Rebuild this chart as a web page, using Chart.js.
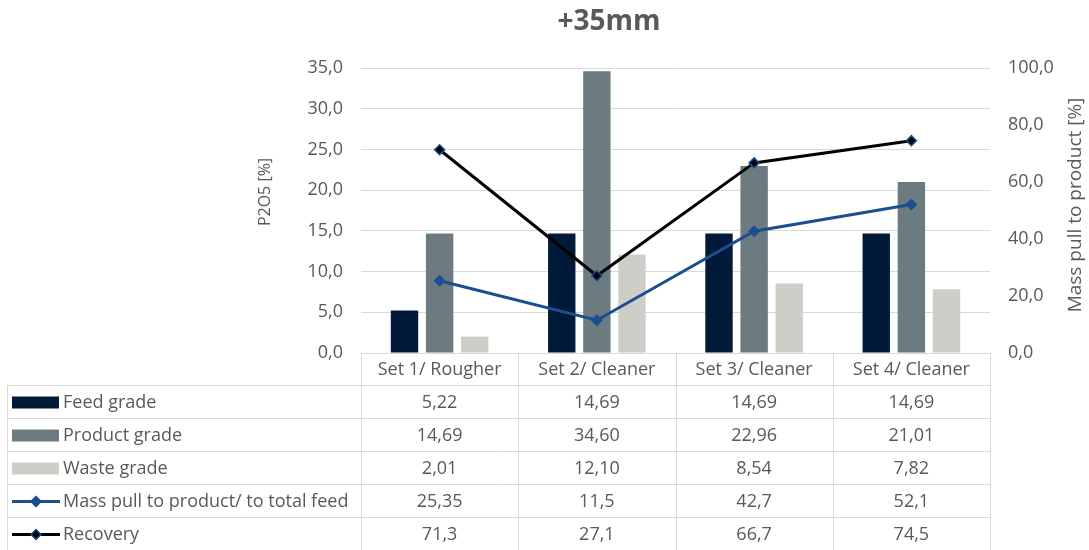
<!DOCTYPE html>
<html>
<head>
<meta charset="utf-8">
<script src="https://cdn.jsdelivr.net/npm/chart.js@4"></script>
<style>
  html, body { margin: 0; padding: 0; background: #fff; }
  #wrap { width: 1089px; height: 550px; }
</style>
</head>
<body>
<div id="wrap"><canvas id="c"></canvas></div>
<script>
// categorías y series
const categories = ['Set 1/ Rougher', 'Set 2/ Cleaner', 'Set 3/ Cleaner', 'Set 4/ Cleaner'];
const feedGrade = [5.22, 14.69, 14.69, 14.69];
const productGrade = [14.69, 34.60, 22.96, 21.01];
const wasteGrade = [2.01, 12.10, 8.54, 7.82];
const massPull = [25.35, 11.5, 42.7, 52.1];
const recovery = [71.3, 27.1, 66.7, 74.5];
const leftTicks = [0, 5, 10, 15, 20, 25, 30, 35];
const rightTicks = [0, 20, 40, 60, 80, 100];

const TXT = '#595959';
const GRID = '#d9d9d9';
const FONT = 'Open Sans';
const FS = 18;
const C = {
  feed: '#021a3a',
  product: '#6b7b80',
  waste: '#cdcec7',
  mass: '#1b4f8f',
  rec: '#000000',
};

const comma = (v) => String(v).replace('.', ',');
const fix2 = (v) => v.toFixed(2).replace('.', ',');

// filas de la tabla de datos (debajo del gráfico)
const rows = [
  { label: 'Feed grade', values: feedGrade, fmt: fix2, key: 'bar', color: C.feed },
  { label: 'Product grade', values: productGrade, fmt: fix2, key: 'bar', color: C.product },
  { label: 'Waste grade', values: wasteGrade, fmt: fix2, key: 'bar', color: C.waste },
  { label: 'Mass pull to product/ to total feed', values: massPull, fmt: comma, key: 'line', color: C.mass, fill: C.mass },
  { label: 'Recovery', values: recovery, fmt: comma, key: 'line', color: C.rec, fill: C.rec },
];

const tablePlugin = {
  id: 'dataTable',
  afterDraw(chart) {
    const { ctx, chartArea: { left, right, bottom }, scales: { x } } = chart;
    const rowH = 33;
    const headH = 32;
    const colW = (right - left) / categories.length;
    const tableLeft = 7;
    ctx.save();
    ctx.strokeStyle = GRID;
    ctx.lineWidth = 1;

    // bordes
    const y0 = bottom + headH;
    ctx.beginPath();
    ctx.moveTo(left, bottom + 0.5); ctx.lineTo(right, bottom + 0.5);
    for (let r = 0; r <= rows.length; r++) {
      const y = Math.round(y0 + r * rowH) + 0.5;
      ctx.moveTo(tableLeft, y); ctx.lineTo(right, y);
    }
    for (let c = 0; c <= categories.length; c++) {
      const xx = Math.round(left + c * colW) + 0.5;
      ctx.moveTo(xx, bottom); ctx.lineTo(xx, 550);
    }
    ctx.moveTo(tableLeft + 0.5, y0); ctx.lineTo(tableLeft + 0.5, 550);
    ctx.stroke();

    ctx.font = `${FS}px "${FONT}"`;
    ctx.fillStyle = TXT;
    ctx.textAlign = 'center';
    ctx.textBaseline = 'middle';
    categories.forEach((cat, i) => {
      ctx.fillText(cat, x.getPixelForValue(i), bottom + headH / 2 + 1);
    });

    rows.forEach((row, r) => {
      const cy = y0 + r * rowH + rowH / 2 + 1;
      // clave de la leyenda
      if (row.key === 'bar') {
        ctx.fillStyle = row.color;
        ctx.fillRect(12, cy - 6, 47, 12);
      } else {
        ctx.strokeStyle = row.color;
        ctx.lineWidth = 3;
        ctx.beginPath(); ctx.moveTo(12, cy); ctx.lineTo(60, cy); ctx.stroke();
        ctx.fillStyle = row.fill;
        ctx.strokeStyle = C.mass;
        ctx.lineWidth = 1.5;
        ctx.beginPath();
        ctx.moveTo(36, cy - 5); ctx.lineTo(41, cy); ctx.lineTo(36, cy + 5); ctx.lineTo(31, cy);
        ctx.closePath(); ctx.fill(); ctx.stroke();
      }
      ctx.fillStyle = TXT;
      ctx.textAlign = 'left';
      ctx.fillText(row.label, 63, cy);
      ctx.textAlign = 'center';
      row.values.forEach((v, i) => ctx.fillText(row.fmt(v), x.getPixelForValue(i), cy));
    });

    // título principal
    ctx.font = `bold 28px "${FONT}"`;
    ctx.fillText('+35mm', 609, 22);

    // títulos de los ejes (se leen de abajo hacia arriba)
    const vtitle = (text, cx, cy, size) => {
      ctx.save();
      ctx.translate(cx, cy);
      ctx.rotate(-Math.PI / 2);
      ctx.font = `${size}px "${FONT}"`;
      ctx.fillStyle = TXT;
      ctx.textAlign = 'center';
      ctx.fillText(text, 0, 0);
      ctx.restore();
    };
    vtitle('P2O5 [%]', 265, 192, 16);
    vtitle('Mass pull to product [%]', 1076, 205, 19);
    ctx.restore();
  },
};

const barDs = (label, data, color) => ({
  type: 'bar', label, data, backgroundColor: color, yAxisID: 'y', order: 1,
  barPercentage: 0.78, categoryPercentage: 0.67,
});
const lineDs = (label, data, color, fill) => ({
  type: 'line', label, data, borderColor: color, borderWidth: 3, yAxisID: 'y1', order: 0,
  pointStyle: 'rectRot', pointRadius: 5, pointBackgroundColor: fill,
  pointBorderColor: C.mass, pointBorderWidth: 1.5, tension: 0,
});

new Chart(document.getElementById('c'), {
  data: {
    labels: categories,
    datasets: [
      lineDs('Recovery', recovery, C.rec, C.rec),
      lineDs('Mass pull to product/ to total feed', massPull, C.mass, C.mass),
      barDs('Feed grade', feedGrade, C.feed),
      barDs('Product grade', productGrade, C.product),
      barDs('Waste grade', wasteGrade, C.waste),
    ],
  },
  options: {
    responsive: true,
    maintainAspectRatio: false,
    animation: false,
    layout: { padding: { left: 250, right: 0, top: 68, bottom: 197 } },
    plugins: {
      legend: { display: false },
      tooltip: { enabled: false },
      title: { display: false },
    },
    scales: {
      x: { display: false },
      y: {
        position: 'left', min: 0, max: 35,
        afterBuildTicks: (s) => { s.ticks = leftTicks.map((v) => ({ value: v })); },
        ticks: { color: TXT, padding: 18, font: { family: FONT, size: FS }, callback: (v) => v.toFixed(1).replace('.', ',') },
        grid: { color: GRID, drawTicks: false },
        border: { display: false },
        afterFit: (s) => { s.width = 111; },
      },
      y1: {
        position: 'right', min: 0, max: 100,
        afterBuildTicks: (s) => { s.ticks = rightTicks.map((v) => ({ value: v })); },
        ticks: { color: TXT, padding: 18, font: { family: FONT, size: FS }, callback: (v) => v.toFixed(1).replace('.', ',') },
        grid: { display: false, drawTicks: false },
        border: { display: false },
        afterFit: (s) => { s.width = 99; },
      },
    },
  },
  plugins: [tablePlugin],
});
</script>
</body>
</html>
